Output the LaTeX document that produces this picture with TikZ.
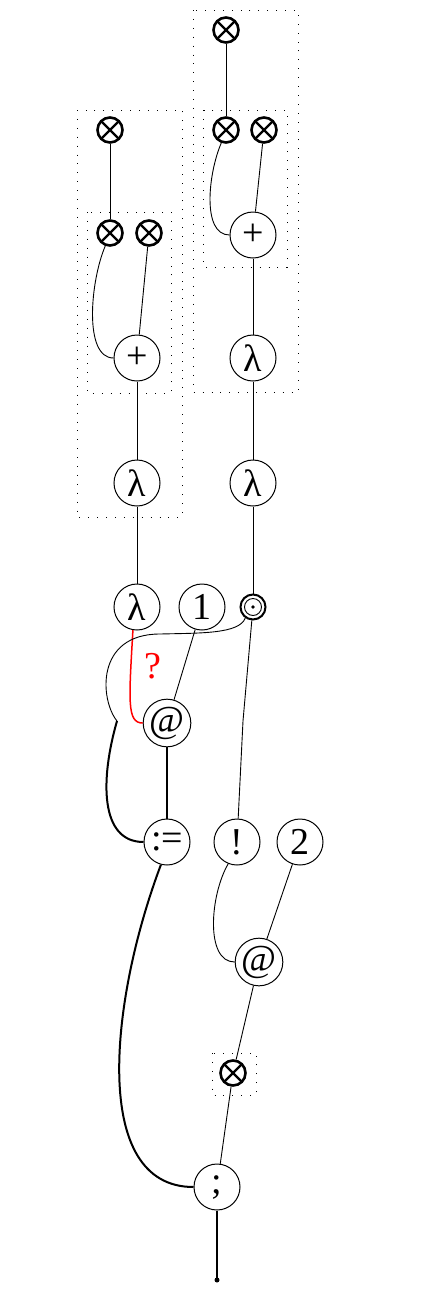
\documentclass[tikz,border=0pt]{standalone}
\usepackage{fontspec}
\setmainfont{Liberation Serif}
\usetikzlibrary{calc}
\begin{document}
\begin{tikzpicture}[x=1pt,y=-1pt,
  every node/.style={font=\fontsize{38}{44}\selectfont},
  op/.style={circle,draw,line width=1pt,minimum size=46pt,inner sep=0pt},
  tens/.style={circle,draw,line width=2.6pt,minimum size=25pt,inner sep=0pt,
    path picture={\draw[line width=2.2pt] (path picture bounding box.center) +(45:14pt) -- +(225:14pt)
      (path picture bounding box.center) +(135:14pt) -- +(315:14pt);}},
  odotn/.style={circle,draw,line width=2pt,minimum size=25pt,inner sep=0pt,
    path picture={\fill (path picture bounding box.center) circle (1.8pt);
      \draw[line width=0.9pt] (path picture bounding box.center) circle (8.5pt);}},
  regionbox/.style={draw,line width=0.9pt,dash pattern=on 0.9pt off 8pt},
  wire/.style={line width=0.9pt},
  thickwire/.style={line width=2pt},
  redwire/.style={line width=1.5pt,red}]
\useasboundingbox (0,0) rectangle (425,1291);
% region boxes
\draw[regionbox] (193,10) rectangle (298,392);
\draw[regionbox] (203,110) rectangle (287,267);
\draw[regionbox] (77,110) rectangle (182,517);
\draw[regionbox] (87,212) rectangle (171,393);
\draw[regionbox] (212,1053) rectangle (256,1095);
% nodes
\node[tens] (tA) at (226,30) {};
\node[tens] (tB) at (226,130) {};
\node[tens] (tC) at (264,130) {};
\node[op] (pR) at (253,235) {+};
\node[op] (lR1) at (253,358) {λ};
\node[op] (lR2) at (253,483) {λ};
\node[odotn] (dot) at (253,607) {};
\node[tens] (tD) at (110,130) {};
\node[tens] (tE) at (110,233) {};
\node[tens] (tF) at (149,233) {};
\node[op] (pL) at (137,358) {+};
\node[op] (lL1) at (137,483) {λ};
\node[op] (lL2) at (137,607) {λ};
\node[op] (one) at (202,607) {1};
\node[op] (app1) at (167,723) {@};
\node[op] (asg) at (167,842) {:=};
\node[op] (bang) at (237,842) {!};
\node[op] (two) at (300,842) {2};
\node[op] (app2) at (259,962) {@};
\node[tens] (tG) at (233,1073) {};
\node[op] (seq) at (217,1187) {;};
\node[red] (q) at (153,666) {?};
\coordinate (endp) at (217,1280);
\coordinate (jL) at (117,721);
\coordinate (jR) at (243,721);
% right column
\draw[wire] (tA) -- (tB);
\draw[wire] (tB.-110) .. controls +(-13,30) and +(-28,0) .. (pR.west);
\draw[wire] (tC) -- (pR);
\draw[wire] (pR) -- (lR1);
\draw[wire] (lR1) -- (lR2);
\draw[wire] (lR2) -- (dot);
% left column
\draw[wire] (tD) -- (tE);
\draw[wire] (tE.-110) .. controls +(-15,35) and +(-30,0) .. (pL.west);
\draw[wire] (tF) -- (pL);
\draw[wire] (pL) -- (lL1);
\draw[wire] (lL1) -- (lL2);
% middle
\draw[redwire] (lL2.-100) .. controls +(-4,70) and +(-16,0) .. (app1.west);
\draw[wire] (dot.235) .. controls +(-6,16) and (200,633) .. (160,634)
  .. controls (95,634) and (100,700) .. (jL);
\draw[thickwire] (jL) .. controls (100,780) and (100,842) .. (asg.west);
\draw[wire] (one) -- (app1);
\draw[thickwire] (app1) -- (asg);
\draw[wire] (dot) -- (jR);
\draw[wire] (jR) -- (bang);
\draw[wire] (bang.-112) .. controls (210,895) and (205,962) .. (app2.west);
\draw[wire] (two) -- (app2);
\draw[wire] (app2) -- (tG);
\draw[wire] (tG) -- (seq);
\draw[thickwire] (asg.-105) .. controls (110,1000) and (90,1187) .. (seq.west);
\draw[thickwire] (seq) -- (endp);
\fill (endp) circle (2.5pt);
\end{tikzpicture}
\end{document}
